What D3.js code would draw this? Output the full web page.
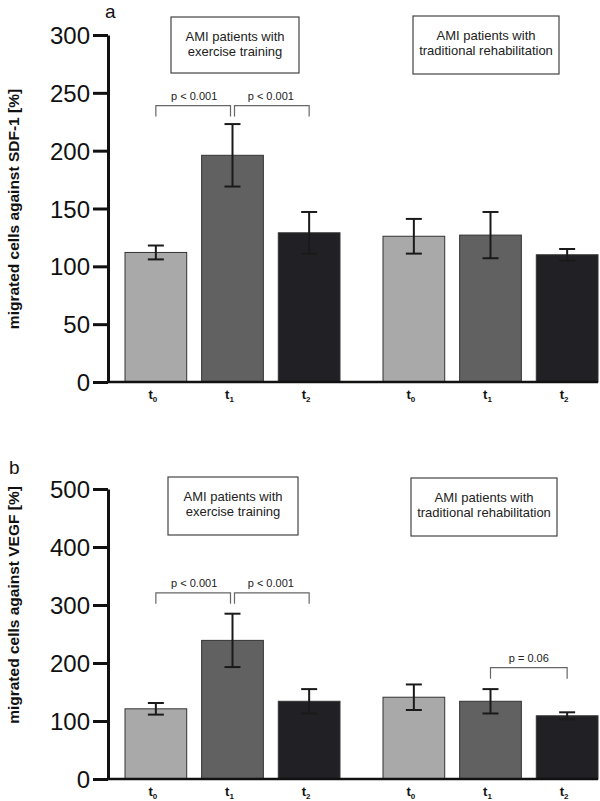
<!DOCTYPE html>
<html>
<head>
<meta charset="utf-8">
<script src="https://cdn.jsdelivr.net/npm/d3@7"></script>
<style>
  html, body { margin: 0; padding: 0; background: #fff; }
  svg { display: block; font-family: "Liberation Sans", Arial, Helvetica, sans-serif; }
</style>
</head>
<body>
<svg id="chart" width="600" height="801"></svg>
<script>
// ---- data ----
const groups = ["exercise", "traditional"];
const groupLabels = [["AMI patients with", "exercise training"], ["AMI patients with", "traditional rehabilitation"]];
const timepoints = ["t0", "t1", "t2"];
const tickSubs = ["0", "1", "2"];

const sdfMeans = [[112, 196, 129], [126, 127, 110]];
const sdfErr   = [[6, 27, 18], [15, 20, 5]];
const sdfTicks = [0, 50, 100, 150, 200, 250, 300];

const vegfMeans = [[121, 239, 134], [141, 134, 109]];
const vegfErr   = [[10, 46, 21], [22, 21, 6]];
const vegfTicks = [0, 100, 200, 300, 400, 500];

const sdfSig  = [{g: 0, a: 0, b: 1, text: "p < 0.001", v: 239}, {g: 0, a: 1, b: 2, text: "p < 0.001", v: 239}];
const vegfSig = [{g: 0, a: 0, b: 1, text: "p < 0.001", v: 321}, {g: 0, a: 1, b: 2, text: "p < 0.001", v: 321}, {g: 1, a: 1, b: 2, text: "p = 0.06", v: 192}];

const colors = ["#a9a9a9", "#616161", "#212125"];

const svg = d3.select("#chart");

function drawPanel(opt) {
  const g = svg.append("g");
  const y = d3.scaleLinear().domain([0, opt.max]).range([opt.y0, opt.y1]);
  const xg = d3.scaleBand().domain(groups).range([125, 598]).paddingInner(43 / 258).paddingOuter(0);
  const xt = d3.scaleBand().domain(timepoints).range([0, xg.bandwidth()]).paddingInner(15 / 77).paddingOuter(0);

  // group boxes
  groups.forEach((gr, gi) => {
    const b = opt.boxes[gi];
    g.append("rect").attr("x", b[0]).attr("y", b[1]).attr("width", b[2]).attr("height", b[3])
      .attr("fill", "#fff").attr("stroke", "#444").attr("stroke-width", 1.2);
    groupLabels[gi].forEach((line, li) => {
      g.append("text").attr("x", b[0] + b[2] / 2).attr("y", b[1] + 24 + li * 15)
        .attr("text-anchor", "middle").attr("font-size", 13).attr("fill", "#222").text(line);
    });
  });

  // bars
  groups.forEach((gr, gi) => {
    timepoints.forEach((t, ti) => {
      const x = xg(gr) + xt(t);
      const m = opt.means[gi][ti], e = opt.errs[gi][ti];
      g.append("rect").attr("x", x).attr("y", y(m)).attr("width", xt.bandwidth()).attr("height", y(0) - y(m))
        .attr("fill", colors[ti]).attr("stroke", "#333").attr("stroke-width", 1);
      const cx = x + xt.bandwidth() / 2;
      const eg = g.append("g").attr("stroke", "#1a1a1a").attr("stroke-width", 2);
      eg.append("line").attr("x1", cx).attr("x2", cx).attr("y1", y(m - e)).attr("y2", y(m + e));
      eg.append("line").attr("x1", cx - 8).attr("x2", cx + 8).attr("y1", y(m + e)).attr("y2", y(m + e));
      eg.append("line").attr("x1", cx - 8).attr("x2", cx + 8).attr("y1", y(m - e)).attr("y2", y(m - e));
      // x label
      const tx = g.append("text").attr("x", cx - 3).attr("y", y(0) + 17).attr("text-anchor", "middle")
        .attr("font-size", 13).attr("font-weight", "bold").attr("fill", "#111");
      tx.append("tspan").text("t");
      tx.append("tspan").attr("font-size", 8).attr("dy", 3).attr("fill", "#111").text(tickSubs[ti]);
    });
  });

  // significance brackets
  opt.sig.forEach(s => {
    const gr = groups[s.g];
    const xa = xg(gr) + xt(timepoints[s.a]) + xt.bandwidth() / 2;
    const xb = xg(gr) + xt(timepoints[s.b]) + xt.bandwidth() / 2;
    const off = (s.a === 1 && s.g === 0 ? 2 : 0);
    const off2 = (s.b === 1 ? -2 : 0);
    const yy = y(s.v);
    g.append("path").attr("d", `M${xa + off},${yy + 11}V${yy}H${xb + off2}V${yy + 11}`)
      .attr("fill", "none").attr("stroke", "#666").attr("stroke-width", 1.2);
    g.append("text").attr("x", (xa + xb) / 2).attr("y", yy - 6).attr("text-anchor", "middle")
      .attr("font-size", 11).attr("fill", "#222").text(s.text);
  });

  // axes
  const ax = g.append("g").attr("transform", "translate(108,0)")
    .call(d3.axisLeft(y).tickValues(opt.ticks).tickSize(15).tickSizeOuter(0).tickPadding(3));
  ax.select(".domain").attr("stroke", "#111").attr("stroke-width", 3);
  ax.selectAll(".tick line").attr("stroke", "#111").attr("stroke-width", 3);
  ax.selectAll(".tick text").attr("font-size", 24).attr("fill", "#111")
    .attr("font-family", "'Liberation Sans', Arial, sans-serif").attr("dy", "0.36em");
  g.append("line").attr("x1", 107).attr("x2", 598).attr("y1", y(0)).attr("y2", y(0))
    .attr("stroke", "#111").attr("stroke-width", 2.5);

  // y title
  g.append("text").attr("transform", `translate(19,${opt.titleY}) rotate(-90)`)
    .attr("text-anchor", "middle").attr("font-size", 15.5).attr("font-weight", "bold").attr("fill", "#111")
    .text(opt.title);

  // panel letter
  g.append("text").attr("x", opt.letter[0]).attr("y", opt.letter[1]).attr("font-size", 19)
    .attr("fill", "#111").text(opt.letterText);
}

drawPanel({
  max: 300, y0: 382, y1: 35, ticks: sdfTicks, means: sdfMeans, errs: sdfErr, sig: sdfSig,
  boxes: [[171, 17, 128, 56], [413, 16, 146, 58]], titleY: 209,
  title: "migrated cells against SDF-1 [%]", letter: [105, 18], letterText: "a"
});
drawPanel({
  max: 500, y0: 779, y1: 489, ticks: vegfTicks, means: vegfMeans, errs: vegfErr, sig: vegfSig,
  boxes: [[168, 477, 130, 58], [411, 478, 146, 58]], titleY: 605,
  title: "migrated cells against VEGF [%]", letter: [9, 474], letterText: "b"
});
</script>
</body>
</html>
